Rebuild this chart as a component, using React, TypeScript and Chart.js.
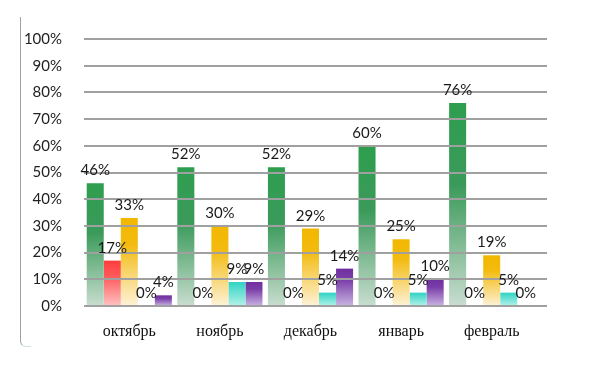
import React, { useEffect, useRef } from "react";
import { Chart, registerables } from "chart.js";

Chart.register(...registerables);

const categories = ["октябрь", "ноябрь", "декабрь", "январь", "февраль"];
const greenValues = [46, 52, 52, 60, 76];
const redValues = [17, 0, 0, 0, 0];
const orangeValues = [33, 30, 29, 25, 19];
const tealValues = [0, 9, 5, 5, 5];
const purpleValues = [4, 9, 14, 10, 0];
const yTickValues = [0, 10, 20, 30, 40, 50, 60, 70, 80, 90, 100];

const SANS = "Lato, 'Open Sans', sans-serif";

type Stops = [number, string][];

const greenStops: Stops = [
  [0, "#2e9e4e"],
  [0.4, "#3a9a5a"],
  [1, "#c9ddcf"],
];
const redStops: Stops = [
  [0, "#ff3d3d"],
  [0.35, "#ff5a5a"],
  [1, "#ffc2c2"],
];
const orangeStops: Stops = [
  [0, "#f2b700"],
  [0.3, "#f3bb10"],
  [1, "#fdf2d8"],
];
const tealStops: Stops = [
  [0, "#2fd3c3"],
  [1, "#b4f2ea"],
];
const purpleStops: Stops = [
  [0, "#7030a0"],
  [0.3, "#7a3ea8"],
  [1, "#c9b4e2"],
];

function gradientFill(stops: Stops) {
  return (ctx: any) => {
    const chart = ctx.chart;
    if (!chart.chartArea || ctx.type !== "data") return stops[0][1];
    const y = chart.scales.y;
    const v = ctx.parsed ? ctx.parsed.y : ctx.raw;
    const top = y.getPixelForValue(v);
    const base = y.getPixelForValue(0);
    if (!isFinite(top) || !isFinite(base) || base - top < 1) return stops[0][1];
    const g = chart.ctx.createLinearGradient(0, top, 0, base);
    stops.forEach(([o, c]) => g.addColorStop(o, c));
    return g;
  };
}

const overlayPlugin = {
  id: "overlay",
  afterDatasetsDraw(chart: any) {
    const { ctx, chartArea, scales } = chart;
    const y = scales.y;
    ctx.save();
    // grid lines over the bars
    ctx.strokeStyle = "#a0a0a0";
    ctx.lineWidth = 2;
    yTickValues.forEach((v) => {
      const py = Math.round(y.getPixelForValue(v));
      ctx.beginPath();
      ctx.moveTo(chartArea.left, py);
      ctx.lineTo(chartArea.right + 10, py);
      ctx.stroke();
    });
    // value labels
    ctx.font = `15px ${SANS}`;
    ctx.fillStyle = "#1a1a1a";
    ctx.textAlign = "center";
    ctx.textBaseline = "alphabetic";
    chart.data.datasets.forEach((ds: any, di: number) => {
      const meta = chart.getDatasetMeta(di);
      meta.data.forEach((bar: any, i: number) => {
        const v = ds.data[i];
        ctx.fillText(v + "%", bar.x, bar.y - 8);
      });
    });
    ctx.restore();
  },
};

export default function App() {
  const canvasRef = useRef<HTMLCanvasElement | null>(null);

  useEffect(() => {
    if (!canvasRef.current) return;
    const mk = (label: string, data: number[], stops: Stops) => ({
      label,
      data,
      backgroundColor: gradientFill(stops),
      borderWidth: 0,
      categoryPercentage: 0.94,
      barPercentage: 1,
    });
    const chart = new Chart(canvasRef.current, {
      type: "bar",
      data: {
        labels: categories,
        datasets: [
          mk("green", greenValues, greenStops),
          mk("red", redValues, redStops),
          mk("orange", orangeValues, orangeStops),
          mk("teal", tealValues, tealStops),
          mk("purple", purpleValues, purpleStops),
        ],
      },
      options: {
        responsive: false,
        animation: false,
        devicePixelRatio: 1,
        layout: { padding: { top: 39, right: 56, bottom: 22, left: 0 } },
        plugins: {
          legend: { display: false },
          tooltip: { enabled: false },
        },
        scales: {
          x: {
            grid: { display: false, drawTicks: false },
            border: { display: false },
            ticks: {
              padding: 16,
              color: "#111",
              font: { family: "'Liberation Serif', serif", size: 16 },
              maxRotation: 0,
            },
            afterFit: (s: any) => {
              s.height = 40;
            },
          },
          y: {
            min: 0,
            max: 100,
            grid: { display: false, drawTicks: false },
            border: { display: false },
            ticks: {
              stepSize: 10,
              padding: 22,
              color: "#222",
              font: { family: SANS, size: 15 },
              callback: (v: any) => v + "%",
            },
            afterFit: (s: any) => {
              s.width = 84;
            },
          },
        },
      },
      plugins: [overlayPlugin],
    });
    return () => chart.destroy();
  }, []);

  return (
    <div
      style={{
        position: "fixed",
        left: 0,
        top: 0,
        width: 593,
        height: 368,
        background: "#fff",
      }}
    >
      <div
        style={{
          position: "absolute",
          left: 20,
          top: 17,
          width: 10,
          height: 329,
          borderLeft: "1px solid #9aa3a8",
          borderBottom: "1px solid #d3e0e0",
          borderBottomLeftRadius: 6,
        }}
      />
      <canvas
        ref={canvasRef}
        width={593}
        height={368}
        style={{ position: "absolute", left: 0, top: 0, width: 593, height: 368 }}
      />
    </div>
  );
}
